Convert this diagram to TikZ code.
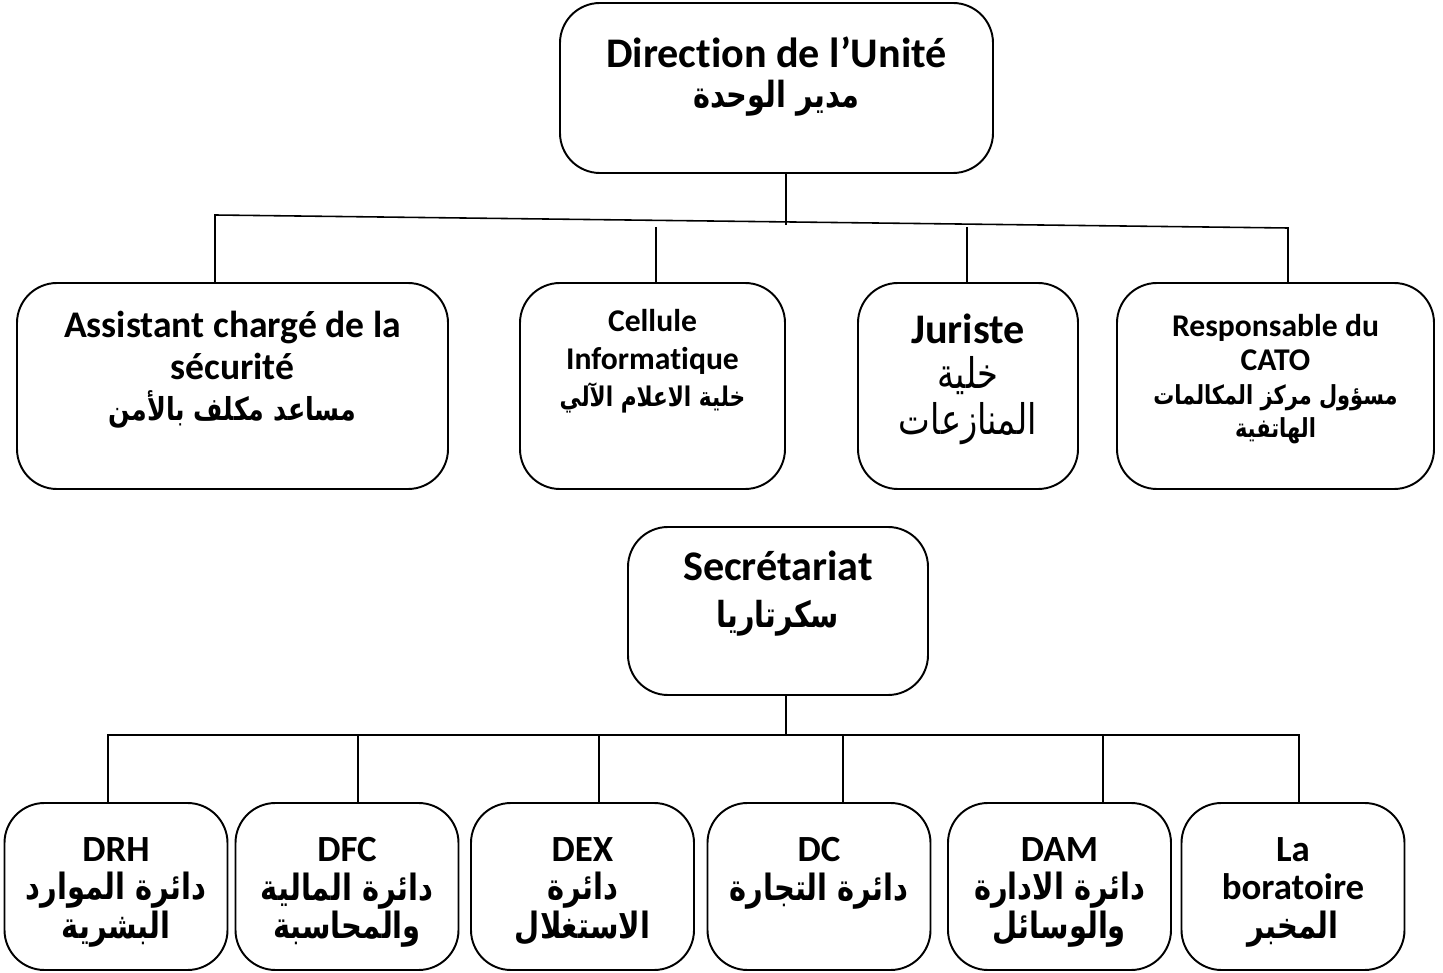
\documentclass[tikz,border=0pt]{standalone}
\usepackage{fontspec}
\setmainfont{Carlito}[Ligatures=NoCommon]
\newfontfamily\arabicfont[Script=Arabic,FakeStretch=0.8]{DejaVu Sans}
\TeXXeTstate=1
\lineskiplimit=-100pt
\usetikzlibrary{positioning}
\newcommand{\ar}[2]{{\arabicfont\fontsize{#1}{#1}\selectfont #2}}
\tikzset{unitbox/.style={draw=black,line width=1.1pt,rounded corners=8mm,inner sep=0pt,minimum height=#1},
  lbl/.style={align=center,font=\bfseries,inner sep=0pt,anchor=north},
  link/.style={line width=.9pt}}

\begin{document}
\begin{tikzpicture}[x=0.2mm,y=-0.2mm]
\useasboundingbox (0,0) rectangle (1443,973);
% boxes
\node[unitbox=34mm,minimum width=86.6mm] (dir) at (776.5,88) {};
\node[unitbox=41.2mm,minimum width=86.2mm] (asst) at (232.5,386) {};
\node[unitbox=41.2mm,minimum width=53mm] (info) at (652.5,386) {};
\node[unitbox=41.2mm,minimum width=44mm] (jur) at (968,386) {};
\node[unitbox=41.2mm,minimum width=63.4mm] (cato) at (1275.5,386) {};
\node[unitbox=33.6mm,minimum width=60mm] (sec) at (778,611) {};
\foreach \n/\cx in {drh/116,dfc/347,dex/582.5,dc/819,dam/1059.5,lab/1293}
 \node[unitbox=33.4mm,minimum width=44.6mm] (\n) at (\cx,886.5) {};
% texts
\node[lbl,font=\bfseries\fontsize{24}{22.5}\selectfont,below=6.9mm of dir.north] (dir-t)
 {Direction de l’Unité\\ \ar{20.5}{\beginR مدير الوحدة\endR}};
\node[lbl,font=\bfseries\fontsize{21.4}{23.8}\selectfont,below=5.7mm of asst.north] (asst-t)
 {Assistant chargé de la\\ sécurité\\ \ar{18}{\beginR مساعد مكلف بالأمن\endR}};
\node[lbl,font=\bfseries\fontsize{18}{21.3}\selectfont,below=5.4mm of info.north] (info-t)
 {Cellule\\ Informatique\\ \ar{15.4}{\beginR خلية الاعلام الآلي\endR}};
\node[lbl,font=\fontsize{24}{25.8}\selectfont,below=6.3mm of jur.north] (jur-t)
 {\textbf{Juriste}\\ \ar{24}{\beginR خلية\endR}\\ \ar{24}{\beginR المنازعات\endR}};
\node[lbl,font=\bfseries\fontsize{18}{19.2}\selectfont,below=6.4mm of cato.north] (cato-t)
 {Responsable du\\ CATO\\ \ar{14.9}{\beginR مسؤول مركز المكالمات\endR}\\ \ar{14.9}{\beginR الهاتفية\endR}};
\node[lbl,font=\bfseries\fontsize{24}{27}\selectfont,below=4.9mm of sec.north] (sec-t)
 {Secrétariat\\ \ar{20.4}{\beginR سكرتاريا\endR}};
\tikzset{bot/.style={lbl,font=\bfseries\fontsize{21}{22}\selectfont}}
\node[bot,below=7mm of drh.north] (drh-t) {DRH\\ \ar{20.6}{\beginR دائرة الموارد\endR}\\ \ar{20.6}{\beginR البشرية\endR}};
\node[bot,below=7mm of dfc.north] (dfc-t) {DFC\\ \ar{20.6}{\beginR دائرة المالية\endR}\\ \ar{20.6}{\beginR والمحاسبة\endR}};
\node[bot,below=7mm of dex.north] (dex-t) {DEX\\ \ar{20.6}{\beginR دائرة\endR}\\ \ar{20.6}{\beginR الاستغلال\endR}};
\node[bot,below=7mm of dc.north] (dc-t) {DC\\ \ar{20.6}{\beginR دائرة التجارة\endR}};
\node[bot,below=7mm of dam.north] (dam-t) {DAM\\ \ar{20.6}{\beginR دائرة الادارة\endR}\\ \ar{20.6}{\beginR والوسائل\endR}};
\node[bot,below=7mm of lab.north] (lab-t) {La\\ boratoire\\ \ar{20.6}{\beginR المخبر\endR}};
% top connectors
\coordinate (hubT) at (786,225);
\coordinate (busA) at (215,215);
\coordinate (busB) at (1288,228);
\coordinate (infoT) at (656,227);
\coordinate (jurT) at (967,227);
\draw[link] (dir.south -| hubT) -- (hubT);
\draw[link] (asst.north -| busA) -- (busA) -- (busB) -- (busB |- cato.north);
\draw[link] (infoT) -- (infoT |- info.north);
\draw[link] (jurT) -- (jurT |- jur.north);
% bottom connectors
\coordinate (busL) at (108,735);
\coordinate (busR) at (1299,735);
\draw[link] (sec.south -| 786,0) -- (786,735);
\draw[link] (drh.north -| busL) -- (busL) -- (busR) -- (busR |- lab.north);
\foreach \n/\lx in {dfc/358,dex/599,dc/843,dam/1103}
 \draw[link] (\lx,735) -- (\n.north -| \lx,0);
\end{tikzpicture}
\end{document}
